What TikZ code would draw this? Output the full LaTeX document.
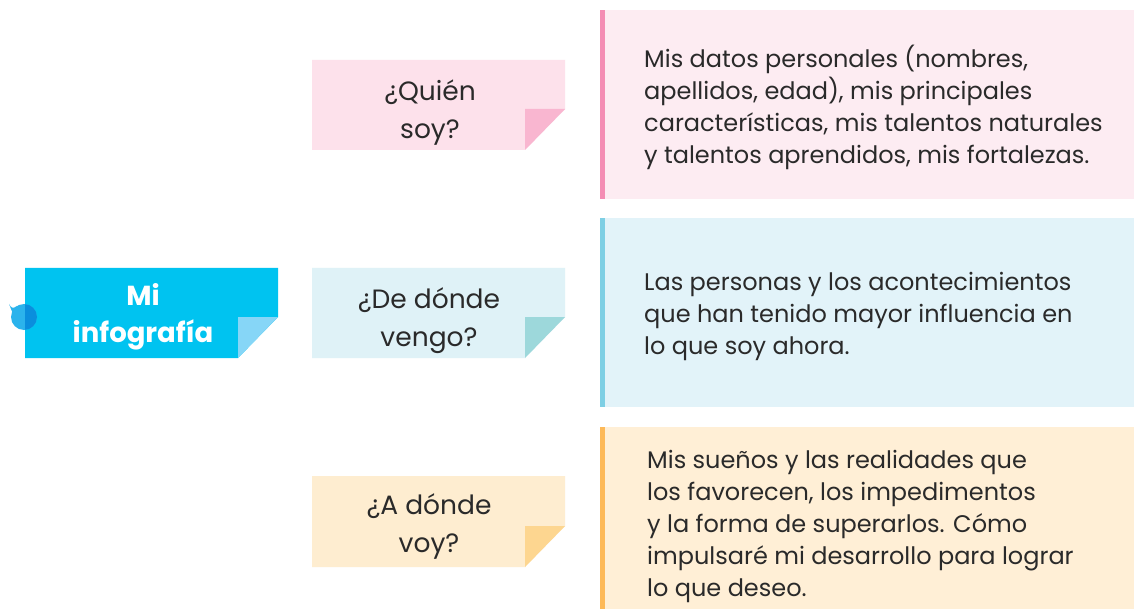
\documentclass[tikz,border=0pt]{standalone}
\usepackage{fontspec}
\setmainfont{Poppins}
\definecolor{mainblue}{HTML}{00C3F0}
\definecolor{mainfold}{HTML}{86D6F7}
\definecolor{dotlight}{HTML}{2BB3EC}
\definecolor{dotdark}{HTML}{0A8EDD}
\definecolor{pinktag}{HTML}{FDE1EB}
\definecolor{pinkfold}{HTML}{F9B6D0}
\definecolor{pinkbg}{HTML}{FDECF2}
\definecolor{pinkbar}{HTML}{F48DB4}
\definecolor{bluetag}{HTML}{DFF2F7}
\definecolor{bluefold}{HTML}{9DD8DB}
\definecolor{bluebg}{HTML}{E2F3F9}
\definecolor{bluebar}{HTML}{7ECFE4}
\definecolor{yeltag}{HTML}{FEEDD0}
\definecolor{yelfold}{HTML}{FDD690}
\definecolor{yelbg}{HTML}{FFEFD6}
\definecolor{yelbar}{HTML}{FDB958}
\definecolor{ink}{HTML}{2A2A2A}
\newcommand\tagbox[6]{% x1,y1,x2,y2,fill,fold
  \fill[#5] (#1,#2) -- (#3,#2) -- (#3,#4-41) -- (#3-40,#4) -- (#1,#4) -- cycle;
  \fill[#6] (#3-40,#4-41) -- (#3,#4-41) -- (#3-40,#4) -- cycle;}
\tikzset{
  tagtext/.style={text=ink, align=center, font=\fontsize{26.5}{38}\selectfont},
  bodytext/.style={text=ink, align=left, anchor=west, inner sep=0pt, font=\fontsize{24}{32}\selectfont},
}
\begin{document}
\begin{tikzpicture}[x=1pt,y=-1pt]
\useasboundingbox (0,0) rectangle (1134,609);
\fill[white] (0,0) rectangle (1134,609);
% right boxes
\fill[pinkbg] (600,10) rectangle (1134,199);
\fill[pinkbar] (600,10) rectangle (605,199);
\fill[bluebg] (600,218) rectangle (1134,407);
\fill[bluebar] (600,218) rectangle (605,407);
\fill[yelbg] (600,427) rectangle (1134,609);
\fill[yelbar] (600,427) rectangle (605,609);
% tags
\tagbox{25}{268}{278}{358}{mainblue}{mainfold}
\tagbox{312}{60}{565}{150}{pinktag}{pinkfold}
\tagbox{312}{268}{565}{358}{bluetag}{bluefold}
\tagbox{312}{476}{565}{567}{yeltag}{yelfold}
% drop
\fill[dotlight] (9,304) .. controls (11,308) and (13,309) .. (17,306) -- (13,314) -- cycle;
\fill[dotlight] (24,317) circle (13);
\begin{scope}
\clip (25,290) rectangle (50,340);
\fill[dotdark] (24,317) circle (13);
\end{scope}
% texts
\node[text=white, align=center, font=\fontsize{27.5}{37}\bfseries\selectfont] (mi) at (143,317) {Mi\\infografía};
\node[tagtext] (q1) at (430,113) {¿Quién\\soy?};
\node[tagtext] (q2) at (429,321) {¿De dónde\\vengo?};
\node[tagtext] (q3) at (429,526) {¿A dónde\\voy?};
\node[bodytext] (a1) at (644,107) {Mis datos personales (nombres,\\apellidos, edad), mis principales\\características, mis talentos naturales\\y talentos aprendidos, mis fortalezas.};
\node[bodytext] (a2) at (644,316) {Las personas y los acontecimientos\\que han tenido mayor influencia en\\lo que soy ahora.};
\node[bodytext] (a3) at (647,526) {Mis sueños y las realidades que\\los favorecen, los impedimentos\\y la forma de superarlos. Cómo\\impulsaré mi desarrollo para lograr\\lo que deseo.};
\end{tikzpicture}
\end{document}
